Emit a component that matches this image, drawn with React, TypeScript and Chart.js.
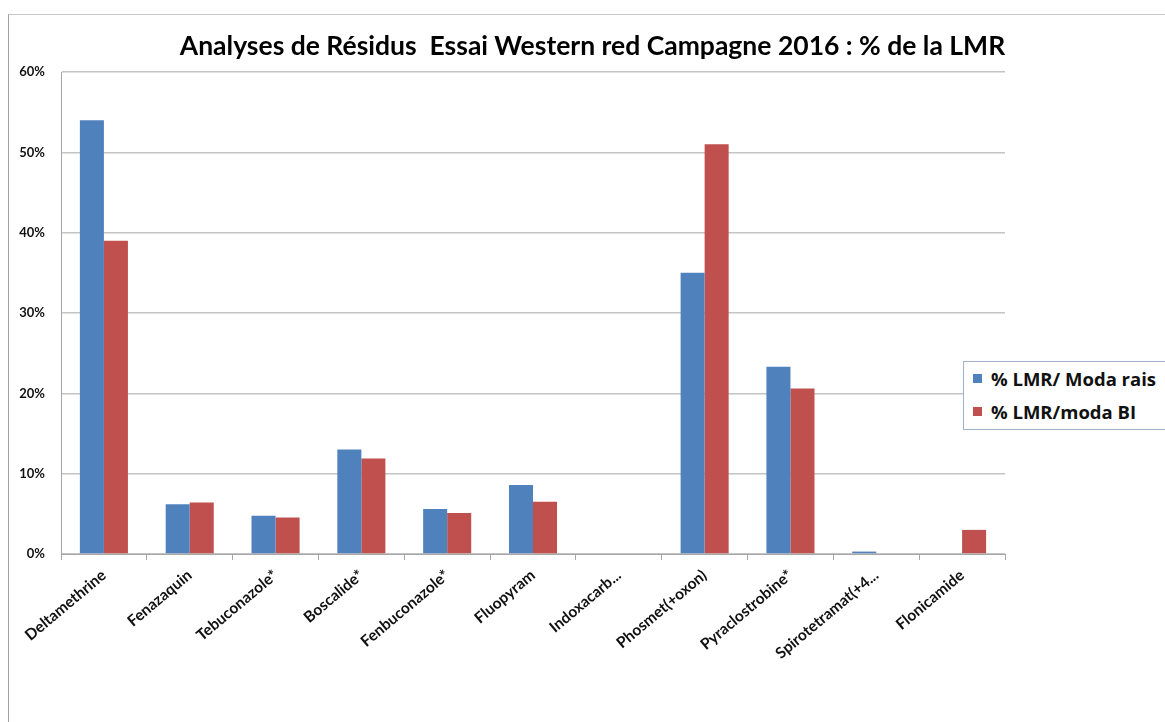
import React, { useEffect, useRef } from "react";
import { Chart, registerables } from "chart.js";

Chart.register(...registerables);

const categories = [
  "Deltamethrine",
  "Fenazaquin",
  "Tebuconazole*",
  "Boscalide*",
  "Fenbuconazole*",
  "Fluopyram",
  "Indoxacarb...",
  "Phosmet(+oxon)",
  "Pyraclostrobine*",
  "Spirotetramat(+4...",
  "Flonicamide",
];

const seriesNames = ["% LMR/ Moda rais", "% LMR/moda BI"];
const seriesColors = ["#4F81BD", "#C0504D"];

const modaRais = [54, 6.2, 4.75, 13.0, 5.6, 8.6, 0, 35, 23.3, 0.3, 0];
const modaBI = [39, 6.4, 4.55, 11.9, 5.1, 6.5, 0, 51, 20.6, 0, 3.0];

const yTicks = [0, 10, 20, 30, 40, 50, 60];

const titleText = "Analyses de Résidus  Essai Western red Campagne 2016 : % de la LMR";

export default function App() {
  const canvasRef = useRef<HTMLCanvasElement | null>(null);

  useEffect(() => {
    if (!canvasRef.current) return;
    const chart = new Chart(canvasRef.current, {
      type: "bar",
      data: {
        labels: categories,
        datasets: [
          {
            label: seriesNames[0],
            data: modaRais,
            backgroundColor: seriesColors[0],
            barPercentage: 1,
            categoryPercentage: 0.56,
          },
          {
            label: seriesNames[1],
            data: modaBI,
            backgroundColor: seriesColors[1],
            barPercentage: 1,
            categoryPercentage: 0.56,
          },
        ],
      },
      options: {
        animation: false,
        responsive: false,
        devicePixelRatio: 1,
        layout: { padding: { left: 0, right: 160, top: 0, bottom: 0 } },
        plugins: {
          legend: { display: false },
          tooltip: { enabled: false },
          title: {
            display: true,
            text: "",
            padding: { top: 48, bottom: 0 },
            font: { size: 20 },
          },
        },
        scales: {
          x: {
            grid: {
              display: true,
              drawOnChartArea: false,
              drawTicks: true,
              tickLength: 6,
              offset: true,
              color: "#a6a6a6",
            },
            border: { color: "#a6a6a6", width: 1 },
            ticks: {
              minRotation: 40,
              maxRotation: 40,
              autoSkip: false,
              padding: 6,
              color: "#111",
              font: { family: "Lato", weight: "bold", size: 15.5 },
            },
            afterFit: (scale: any) => {
              scale.height = 168;
            },
          },
          y: {
            min: 0,
            max: 60,
            afterBuildTicks: (scale: any) => {
              scale.ticks = yTicks.map((v) => ({ value: v }));
            },
            grid: {
              color: "#c4c4c4",
              lineWidth: 1.6,
              drawTicks: false,
            },
            border: { color: "#a6a6a6", width: 1 },
            ticks: {
              padding: 16,
              color: "#111",
              font: { family: "Lato", weight: "bold", size: 13 },
              callback: (v: any) => `${v}%`,
            },
            afterFit: (scale: any) => {
              scale.width = 61;
            },
          },
        },
      },
    });
    return () => chart.destroy();
  }, []);

  return (
    <div
      style={{
        position: "absolute",
        left: 0,
        top: 0,
        width: 1165,
        height: 722,
        overflow: "hidden",
        background: "#fff",
      }}
    >
      <div
        style={{
          position: "absolute",
          left: 8,
          top: 14,
          width: 1200,
          height: 800,
          borderTop: "1px solid #c8c8c8",
          borderLeft: "1px solid #a0a0a0",
        }}
      />
      <canvas
        ref={canvasRef}
        width={1165}
        height={722}
        style={{ position: "absolute", left: 0, top: 0, width: 1165, height: 722 }}
      />
      <div
        style={{
          position: "absolute",
          left: 160,
          top: 28,
          width: 865,
          textAlign: "center",
          fontFamily: "Lato",
          fontWeight: "bold",
          fontSize: 26.5,
          lineHeight: "34px",
          color: "#000",
          whiteSpace: "pre",
        }}
      >
        {titleText}
      </div>
      <div
        style={{
          position: "absolute",
          left: 963,
          top: 361,
          width: 230,
          height: 69,
          border: "1px solid #9fb3cf",
          boxSizing: "border-box",
          background: "#fff",
          fontFamily: "Open Sans",
          fontWeight: "bold",
          fontSize: 18.5,
          color: "#111",
        }}
      >
        {seriesNames.map((name, i) => (
          <div
            key={name}
            style={{
              position: "absolute",
              left: 9,
              top: 3 + i * 33,
              height: 26,
              display: "flex",
              alignItems: "center",
              whiteSpace: "nowrap",
            }}
          >
            <span
              style={{
                display: "inline-block",
                width: 9,
                height: 9,
                background: seriesColors[i],
                marginRight: 9,
              }}
            />
            {name}
          </div>
        ))}
      </div>
    </div>
  );
}
